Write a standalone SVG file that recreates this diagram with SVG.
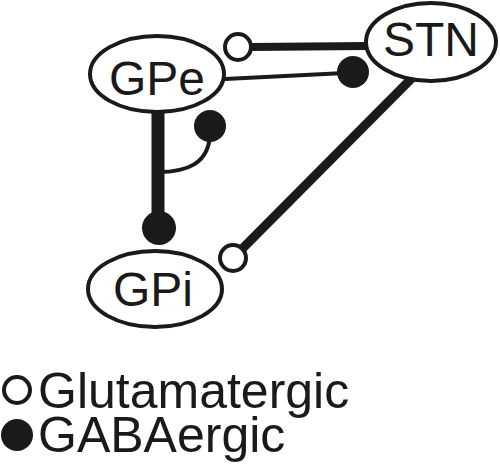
<svg xmlns="http://www.w3.org/2000/svg" width="500" height="476" viewBox="0 0 500 476">
<style>
.node{fill:#fff;stroke:#1a1a1a;stroke-width:4}
.lbl{font-family:"Liberation Sans",Arial,sans-serif;font-size:48px;fill:#1a1a1a;text-anchor:middle}
.leg{font-family:"Liberation Sans",Arial,sans-serif;font-size:50px;fill:#1a1a1a}
.open{fill:#fff;stroke:#1a1a1a;stroke-width:4}
.fill{fill:#1a1a1a}
.ln{stroke:#1a1a1a;fill:none}
</style>
<rect width="500" height="476" fill="#fff"/>
<g id="connectors">
<line class="ln" x1="250" y1="47" x2="367" y2="46" stroke-width="8"/>
<line class="ln" x1="225" y1="79" x2="345" y2="73" stroke-width="4"/>
<line class="ln" x1="413" y1="77" x2="240" y2="251" stroke-width="9"/>
<line class="ln" x1="158" y1="110" x2="158" y2="222" stroke-width="13"/>
<path class="ln" d="M158 172 C185 172 210 165 210 132" stroke-width="4"/>
<circle class="open" cx="238" cy="47" r="13"/>
<circle class="fill" cx="353" cy="72" r="16"/>
<circle class="open" cx="233" cy="258" r="13"/>
<circle class="fill" cx="159" cy="228" r="17"/>
<circle class="fill" cx="210" cy="126" r="16"/>
</g>
<g id="GPe">
<ellipse class="node" cx="157" cy="74" rx="67" ry="38"/>
<text class="lbl" x="157" y="95">GPe</text>
</g>
<g id="STN">
<ellipse class="node" cx="431" cy="42" rx="65" ry="39"/>
<text class="lbl" x="431" y="56">STN</text>
</g>
<g id="GPi">
<ellipse class="node" cx="155" cy="289" rx="67" ry="38"/>
<text class="lbl" x="153" y="306">GPi</text>
</g>
<g id="legend">
<circle class="open" cx="17" cy="390" r="13"/>
<text class="leg" x="38" y="408">Glutamatergic</text>
<circle class="fill" cx="17" cy="435" r="16"/>
<text class="leg" x="38" y="452">GABAergic</text>
</g>
</svg>
